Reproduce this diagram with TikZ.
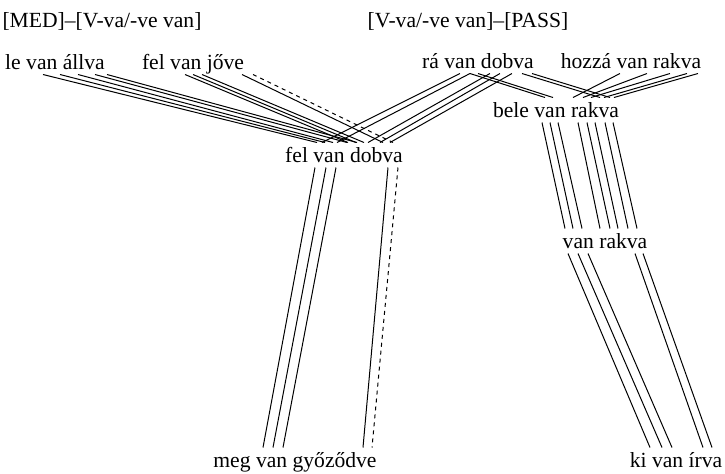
\documentclass[tikz,border=0pt]{standalone}
\usepackage{fontspec}
\setmainfont{Liberation Serif}

\begin{document}
\begin{tikzpicture}[x=.5pt,y=-.5pt,line width=.5pt,
  lex/.style={anchor=base,inner xsep=0pt,inner ysep=2.5pt,text height=7pt,text depth=0pt,font=\fontsize{10.8}{13}\selectfont},
  weak/.style={dash pattern=on 2pt off 2pt}]
\useasboundingbox (0,0) rectangle (725,473);
% schemas
\node[lex] (med) at (102,27) {[MED]--[V-va/-ve van]};
\node[lex] (pass) at (468,27) {[V-va/-ve van]--[PASS]};
% forms
\node[lex] (lva) at (55,69) {le van állva};
\node[lex] (fvj) at (193,69) {fel van jőve};
\node[lex] (rvd) at (478,68) {rá van dobva};
\node[lex] (hvr) at (631,68) {hozzá van rakva};
\node[lex] (bvr) at (556,117) {bele van rakva};
\node[lex] (fvd) at (344,162) {fel van dobva};
\node[lex] (vr) at (605,248) {van rakva};
\node[lex] (mvg) at (295,467) {meg van győződve};
\node[lex] (kvi) at (676,467) {ki van írva};
% links into fel van dobva
\foreach \s/\t in {-12/-27,5/-19,23/-11,40/3,52/13}
  \draw ([xshift=\s*.5pt]lva.south) -- ([xshift=\t*.5pt]fvd.north);
\foreach \s/\t in {-8/4,0/12,9/20,49/39}
  \draw ([xshift=\s*.5pt]fvj.south) -- ([xshift=\t*.5pt]fvd.north);
\draw[weak] ([xshift=30pt]fvj.south) -- ([xshift=24.5pt]fvd.north);
\foreach \s/\t in {-18/-22,-8/-7,12/24,22/36,34/46}
  \draw ([xshift=\s*.5pt]rvd.south) -- ([xshift=\t*.5pt]fvd.north);
% links into bele van rakva
\foreach \s/\t in {-8/-11,0/-3,44/44,54/54}
  \draw ([xshift=\s*.5pt]rvd.south) -- ([xshift=\t*.5pt]bvr.north);
\foreach \s/\t in {-11/17,16/27,39/35,56/48,67/58}
  \draw ([xshift=\s*.5pt]hvr.south) -- ([xshift=\t*.5pt]bvr.north);
% down to van rakva
\foreach \s/\t in {-14/-40,-6/-32,2/-23,22/-5,31/5,39/13,49/23,57/32}
  \draw ([xshift=\s*.5pt]bvr.south) -- ([xshift=\t*.5pt]vr.north);
\foreach \s/\t in {-37/-26,-27/-14,-17/-4,30/27,38/36}
  \draw ([xshift=\s*.5pt]vr.south) -- ([xshift=\t*.5pt]kvi.north);
% down to meg van győződve
\foreach \s/\t in {-29/-32,-18/-22,-8/-12,44/68}
  \draw ([xshift=\s*.5pt]fvd.south) -- ([xshift=\t*.5pt]mvg.north);
\draw[weak] ([xshift=27pt]fvd.south) -- ([xshift=38.5pt]mvg.north);
\end{tikzpicture}
\end{document}
